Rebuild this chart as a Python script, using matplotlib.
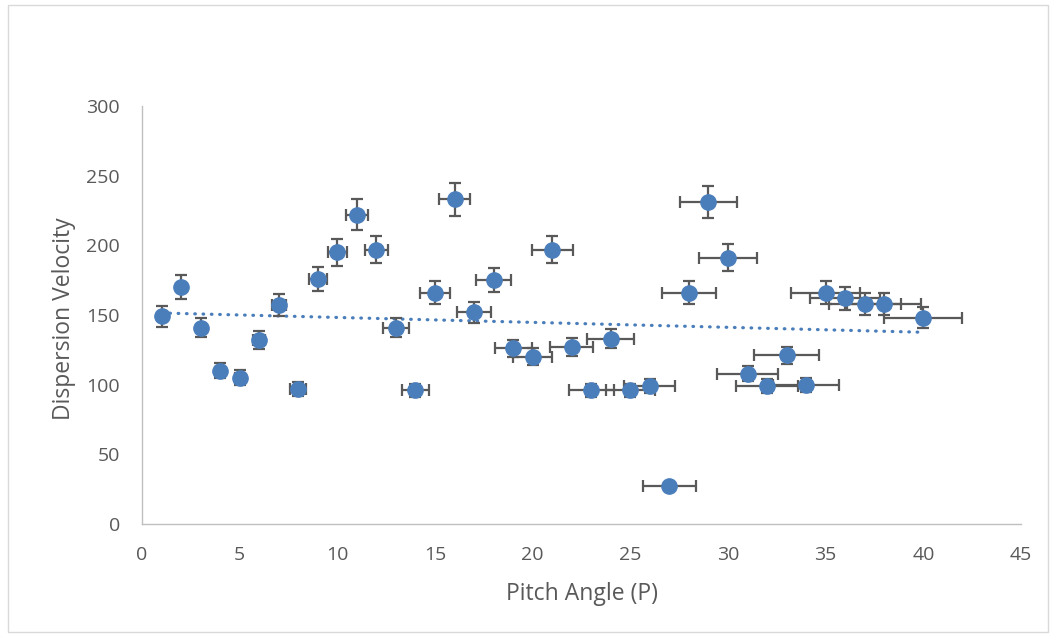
import matplotlib
matplotlib.use("Agg")
import matplotlib.pyplot as plt
import numpy as np
from matplotlib.patches import Rectangle

pitch_angle = [1, 2, 3, 4, 5, 6, 7, 8, 9, 10, 11, 12, 13, 14, 15, 16, 17, 18, 19, 20,
               21, 22, 23, 24, 25, 26, 27, 28, 29, 30, 31, 32, 33, 34, 35, 36, 37, 38, 40]
dispersion_velocity = [149, 170, 141, 110, 105, 132, 157, 97, 176, 195, 222, 197, 141, 96, 166, 233,
                       152, 175, 126, 120, 197, 127, 96, 133, 96, 99, 27, 166, 231, 191,
                       108, 99, 121, 100, 166, 162, 158, 158, 148]
x_error = [0.05, 0.10, 0.15, 0.20, 0.25, 0.30, 0.35, 0.40, 0.45, 0.50, 0.55, 0.60, 0.65, 0.70,
           0.75, 0.80, 0.85, 0.90, 0.95, 1.00, 1.05, 1.10, 1.15, 1.20, 1.25, 1.30, 1.35, 1.40,
           1.45, 1.50, 1.55, 1.60, 1.65, 1.70, 1.75, 1.80, 1.85, 1.90, 2.00]
y_error = [7.5, 8.5, 7.0, 5.5, 5.2, 6.6, 7.9, 4.9, 8.8, 9.8, 11.1, 9.9, 7.0, 4.8, 8.3, 11.7,
           7.6, 8.8, 6.3, 6.0, 9.9, 6.4, 4.8, 6.7, 4.8, 5.0, 1.4, 8.3, 11.6, 9.6,
           5.4, 5.0, 6.1, 5.0, 8.3, 8.1, 7.9, 7.9, 7.4]
x_ticks = [0, 5, 10, 15, 20, 25, 30, 35, 40, 45]
y_ticks = [0, 50, 100, 150, 200, 250, 300]

plt.rcParams['font.family'] = ['Open Sans', 'DejaVu Sans']
W, H = 1056, 637
fig = plt.figure(figsize=(W / 100, H / 100), dpi=100)
fig.patches.append(Rectangle((8 / W, 5 / H), (W - 16) / W, (H - 10) / H, transform=fig.transFigure,
                             fill=False, edgecolor='#d9d9d9', linewidth=1.0))
ax = fig.add_axes([142 / W, 1 - 524 / H, (1021 - 142) / W, (524 - 106) / H])

grey = '#595959'
ax.errorbar(pitch_angle, dispersion_velocity, xerr=x_error, yerr=y_error, fmt='o',
            color='#4a7ebb', markersize=11, ecolor=grey, elinewidth=1.6, capsize=4.5,
            capthick=1.6, zorder=3)

coef = np.polyfit(pitch_angle, dispersion_velocity, 1)
xs = np.array([pitch_angle[0], pitch_angle[-1]])
ax.plot(xs, np.polyval(coef, xs), linestyle=(0, (0.2, 2.4)), color='#4a7ebb', linewidth=2.3,
        dash_capstyle='round', zorder=2)

ax.set_xlim(0, 45)
ax.set_ylim(0, 300)
ax.set_xticks(x_ticks)
ax.set_yticks(y_ticks)
for s in ['top', 'right']:
    ax.spines[s].set_visible(False)
for s in ['left', 'bottom']:
    ax.spines[s].set_color('#bfbfbf')
    ax.spines[s].set_linewidth(1.0)
ax.tick_params(axis='both', length=0, labelsize=14, labelcolor=grey, pad=16)
ax.set_xlabel('Pitch Angle (P)', fontsize=16.5, color=grey)
ax.set_ylabel('Dispersion Velocity', fontsize=16.5, color=grey)
ax.xaxis.label.set_va('center')
ax.yaxis.label.set_va('center')
ax.xaxis.set_label_coords(0.501, (524 - 594) / 418)
ax.yaxis.set_label_coords((64 - 142) / 879, 0.49)

fig.savefig('out.png', dpi=100)
